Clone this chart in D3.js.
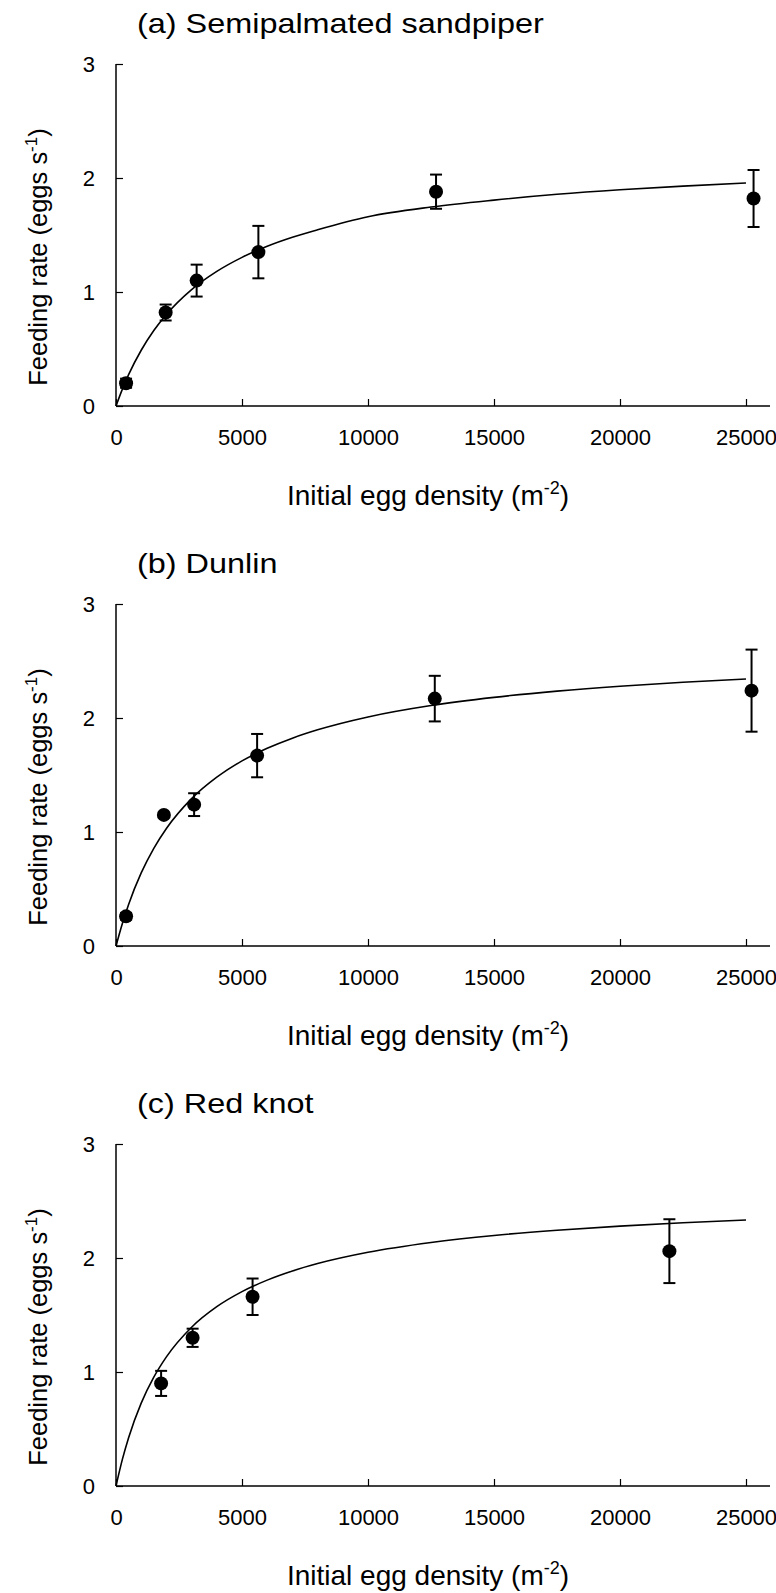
<!DOCTYPE html>
<html>
<head>
<meta charset="utf-8">
<script src="https://cdn.jsdelivr.net/npm/d3@7"></script>
<style>
  html, body { margin: 0; padding: 0; background: #fff; }
  svg { display: block; }
  text { font-family: "Liberation Sans", Arial, Helvetica, sans-serif; fill: #000; }
</style>
</head>
<body>
<svg id="chart" width="776" height="1593"></svg>
<script>
// Panel titles
const panelTitles = ["(a) Semipalmated sandpiper", "(b) Dunlin", "(c) Red knot"];

// Axis ticks
const xTicks = [0, 5000, 10000, 15000, 20000, 25000];
const yTicks = [0, 1, 2, 3];

// Observed feeding rates: initial egg density (m^-2), mean rate (eggs/s), error
const sandpiperDensity = [400, 1970, 3200, 5650, 12700, 25300];
const sandpiperRate    = [0.20, 0.82, 1.10, 1.35, 1.88, 1.82];
const sandpiperErr     = [0.04, 0.07, 0.14, 0.23, 0.15, 0.25];

const dunlinDensity = [400, 1900, 3100, 5600, 12650, 25220];
const dunlinRate    = [0.26, 1.15, 1.24, 1.67, 2.17, 2.24];
const dunlinErr     = [0.03, 0.02, 0.10, 0.19, 0.20, 0.36];

const knotDensity = [1790, 3040, 5420, 21960];
const knotRate    = [0.90, 1.30, 1.66, 2.06];
const knotErr     = [0.11, 0.08, 0.16, 0.28];

// Fitted functional-response curves, sampled along density
const curveDensity   = [0, 250, 500, 1000, 1500, 2000, 3000, 4000, 5000, 6000, 7000, 8000, 10000, 12500, 15000, 17500, 20000, 22500, 25000];
const sandpiperCurve = [0, 0.146, 0.275, 0.489, 0.662, 0.803, 1.021, 1.181, 1.304, 1.402, 1.481, 1.546, 1.660, 1.745, 1.806, 1.857, 1.897, 1.929, 1.956];
const dunlinCurve    = [0, 0.196, 0.365, 0.641, 0.857, 1.031, 1.293, 1.481, 1.624, 1.734, 1.823, 1.896, 2.009, 2.109, 2.181, 2.236, 2.279, 2.313, 2.342];
const knotCurve      = [0, 0.231, 0.424, 0.727, 0.955, 1.133, 1.393, 1.573, 1.705, 1.806, 1.886, 1.951, 2.050, 2.136, 2.198, 2.244, 2.280, 2.309, 2.333];

const panels = [
  { title: panelTitles[0], x: sandpiperDensity, y: sandpiperRate, e: sandpiperErr, c: sandpiperCurve },
  { title: panelTitles[1], x: dunlinDensity,    y: dunlinRate,    e: dunlinErr,    c: dunlinCurve },
  { title: panelTitles[2], x: knotDensity,      y: knotRate,      e: knotErr,      c: knotCurve }
];

const svg = d3.select("#chart");
const left = 116, right = 746, axisEnd = 770;
const plotTop = 64, plotBottom = 406, step = 540;

const x = d3.scaleLinear().domain([0, 25000]).range([left, right]);

panels.forEach((p, i) => {
  const g = svg.append("g").attr("transform", `translate(0,${i * step})`);
  const y = d3.scaleLinear().domain([0, 3]).range([plotBottom, plotTop]);

  // title (set in a slightly widened face)
  g.append("text")
    .attr("transform", "translate(137,33) scale(1.2,1)")
    .style("font-size", "27px")
    .text(p.title);

  // y axis (ticks pointing inward)
  const yAxis = d3.axisLeft(y).tickValues(yTicks).tickSize(-7).tickPadding(21).tickFormat(d3.format("d"));
  const ya = g.append("g").attr("transform", `translate(${left},0)`).call(yAxis);
  ya.select(".domain").attr("d", `M0,${plotTop}V${plotBottom}`).attr("stroke-width", 1.5);
  ya.selectAll(".tick line").attr("stroke-width", 1.2);
  ya.selectAll(".tick text").style("font-size", "22px").style("font-family", "Liberation Sans, Arial, sans-serif");

  // x axis (ticks pointing inward)
  const xAxis = d3.axisBottom(x).tickValues(xTicks).tickSize(-7).tickPadding(23).tickFormat(d3.format("d"));
  const xa = g.append("g").attr("transform", `translate(0,${plotBottom})`).call(xAxis);
  xa.select(".domain").attr("d", `M${left},0H${axisEnd}`).attr("stroke-width", 1.5);
  xa.selectAll(".tick line").attr("stroke-width", 1.2);
  xa.selectAll(".tick text").style("font-size", "22px").style("font-family", "Liberation Sans, Arial, sans-serif");

  // x axis title
  const xt = g.append("text")
    .attr("x", 428).attr("y", 505)
    .attr("text-anchor", "middle")
    .style("font-size", "28px");
  xt.append("tspan").text("Initial egg density (m");
  xt.append("tspan").attr("dy", -11).style("font-size", "18px").text("-2");
  xt.append("tspan").attr("dy", 11).text(")");

  // y axis title
  const yt = g.append("text")
    .attr("transform", `translate(47,257) rotate(-90)`)
    .attr("text-anchor", "middle")
    .style("font-size", "25.5px");
  yt.append("tspan").text("Feeding rate (eggs s");
  yt.append("tspan").attr("dy", -10).style("font-size", "17px").text("-1");
  yt.append("tspan").attr("dy", 10).text(")");

  // fitted curve
  const line = d3.line()
    .x((d, j) => x(curveDensity[j]))
    .y(d => y(d))
    .curve(d3.curveMonotoneX);
  g.append("path")
    .datum(p.c)
    .attr("d", line)
    .attr("fill", "none")
    .attr("stroke", "#000")
    .attr("stroke-width", 1.6);

  // error bars
  const pts = p.x.map((d, j) => ({ x: d, y: p.y[j], e: p.e[j] }));
  const eb = g.append("g").attr("stroke", "#000").attr("stroke-width", 2);
  pts.forEach(d => {
    const cx = x(d.x), y1 = y(d.y + d.e), y2 = y(d.y - d.e);
    eb.append("line").attr("x1", cx).attr("x2", cx).attr("y1", y1).attr("y2", y2);
    eb.append("line").attr("x1", cx - 6).attr("x2", cx + 6).attr("y1", y1).attr("y2", y1);
    eb.append("line").attr("x1", cx - 6).attr("x2", cx + 6).attr("y1", y2).attr("y2", y2);
  });

  // points
  g.append("g").selectAll("circle")
    .data(pts)
    .join("circle")
    .attr("cx", d => x(d.x))
    .attr("cy", d => y(d.y))
    .attr("r", 7)
    .attr("fill", "#000");
});
</script>
</body>
</html>
